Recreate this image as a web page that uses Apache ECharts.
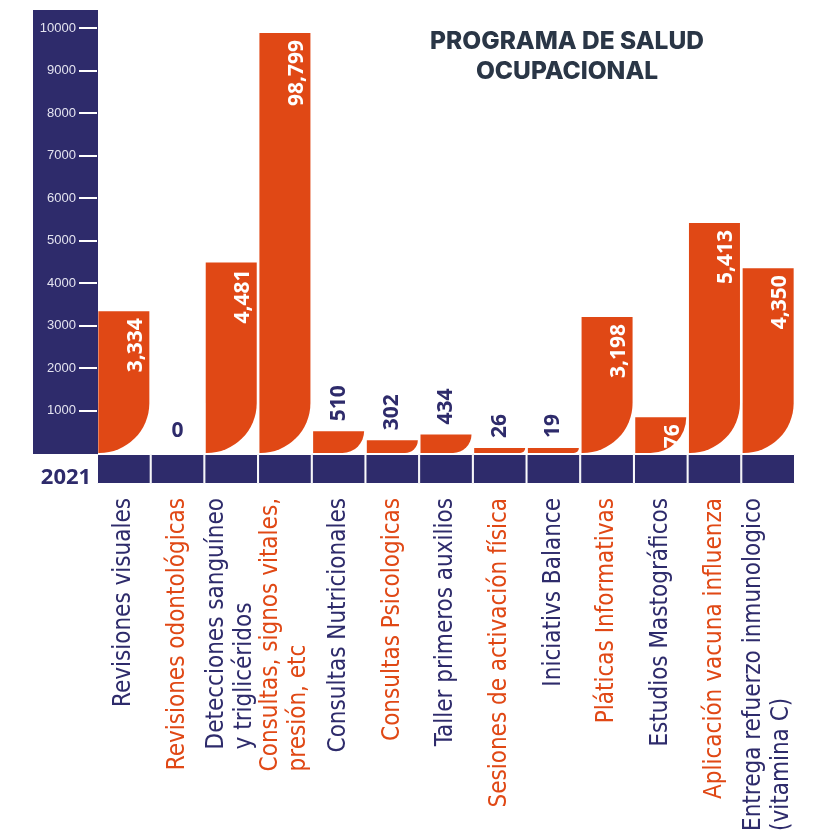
<!DOCTYPE html>
<html>
<head>
<meta charset="utf-8">
<title>Programa de Salud Ocupacional</title>
<script src="https://cdn.jsdelivr.net/npm/echarts@6/dist/echarts.min.js"></script>
<style>
  html, body { margin: 0; padding: 0; background: #fff; }
  #chart { width: 822px; height: 834px; }
</style>
</head>
<body>
<div id="chart"></div>
<script>
  // Datos (año 2021)
  const categories = [
    "Revisiones visuales",
    "Revisiones odontológicas",
    "Detecciones sanguíneo\ny triglicéridos",
    "Consultas, signos vitales,\npresión, etc",
    "Consultas Nutricionales",
    "Consultas Psicologicas",
    "Taller primeros auxilios",
    "Sesiones de activación física",
    "Iniciativs Balance",
    "Pláticas Informativas",
    "Estudios Mastográficos",
    "Aplicación vacuna influenza",
    "Entrega refuerzo inmunologico\n(vitamina C)"
  ];
  // altura dibujada de cada barra (en la escala del eje)
  const barHeights = [3334, 0, 4481, 9880, 510, 302, 434, 26, 19, 3198, 840, 5413, 4350];
  // texto impreso sobre cada barra
  const valueLabels = ["3,334", "0", "4,481", "98,799", "510", "302", "434", "26", "19", "3,198", "76", "5,413", "4,350"];
  const yearLabel = "2021";
  const yMax = 10000;
  const yStep = 1000;

  const NAVY = "#2e2b6b";
  const ORANGE = "#e04815";
  const NARROW = "'Liberation Sans Narrow', 'DejaVu Sans Condensed', sans-serif";

  const chart = echarts.init(document.getElementById("chart"));

  // el offset de una etiqueta girada va en su propio marco: [a, b] -> pantalla (b, -a)
  function labelFor(v) {
    if (v === 0) {
      return { position: "top", distance: 6, color: NAVY };
    }
    if (v < 800) {
      return { position: "top", rotate: 90, align: "left", verticalAlign: "middle", distance: 10, color: NAVY };
    }
    return { position: "insideTop", rotate: 90, align: "right", verticalAlign: "middle", distance: 7, offset: [0, 12], color: "#fff" };
  }

  const option = {
    animation: false,
    title: {
      text: "PROGRAMA DE SALUD\nOCUPACIONAL",
      left: 562,
      top: 22,
      textAlign: "center",
      textStyle: { fontFamily: "Inter", fontWeight: 800, fontSize: 24.5, lineHeight: 30, color: "#2a3646" }
    },
    graphic: [
      { type: "rect", z: -1, shape: { x: 33, y: 10, width: 65, height: 444 }, style: { fill: NAVY } },
      {
        type: "text", x: 66, y: 478,
        style: { text: yearLabel, fill: NAVY, font: "bold 22px 'Open Sans', sans-serif", align: "center", verticalAlign: "middle" }
      }
    ],
    grid: [
      { left: 97, right: 27, top: 28, height: 425 },
      { left: 97, right: 27, top: 454, height: 44 }
    ],
    xAxis: [
      { type: "category", gridIndex: 0, data: categories, show: false },
      {
        type: "category", gridIndex: 1, data: categories,
        axisLine: { show: false }, axisTick: { show: false },
        axisLabel: {
          interval: 0, rotate: 90, margin: 14, hideOverlap: false,
          formatter: function (value, index) {
            const s = index % 2 ? "o" : "n";
            return value.split("\n").map(l => "{" + s + "|" + l + "}").join("\n");
          },
          rich: {
            n: { color: NAVY, fontFamily: NARROW, fontSize: 24, lineHeight: 28, align: "left" },
            o: { color: ORANGE, fontFamily: NARROW, fontSize: 24, lineHeight: 28, align: "left" }
          }
        }
      }
    ],
    yAxis: [
      {
        type: "value", gridIndex: 0, min: 0, max: yMax, interval: yStep,
        axisLine: { show: false },
        axisTick: { show: true, length: 18, lineStyle: { color: "#fff", width: 2 } },
        axisLabel: {
          showMinLabel: false, margin: 21, color: "#e4e4f0", fontSize: 13,
          fontFamily: "'Liberation Sans', sans-serif",
          formatter: v => String(v)
        },
        splitLine: { show: false }
      },
      { type: "value", gridIndex: 1, min: 0, max: 1, show: false }
    ],
    series: [
      {
        type: "bar", xAxisIndex: 0, yAxisIndex: 0,
        barCategoryGap: "5%", barMinHeight: 5,
        itemStyle: { color: ORANGE, borderRadius: [0, 0, 50, 0] },
        label: {
          show: true,
          fontFamily: "'Open Sans', sans-serif", fontWeight: "bold", fontSize: 21,
          formatter: p => valueLabels[p.dataIndex]
        },
        data: barHeights.map(v => ({
          value: v,
          label: labelFor(v),
          itemStyle: v === 0 ? { color: "transparent" } : undefined
        }))
      },
      {
        type: "bar", xAxisIndex: 1, yAxisIndex: 1,
        barCategoryGap: 0, silent: true,
        itemStyle: { color: NAVY, borderColor: "#fff", borderWidth: 1 },
        data: categories.map(() => 1)
      }
    ]
  };

  chart.setOption(option);
  window.addEventListener("resize", function () { chart.resize(); });
</script>
</body>
</html>
